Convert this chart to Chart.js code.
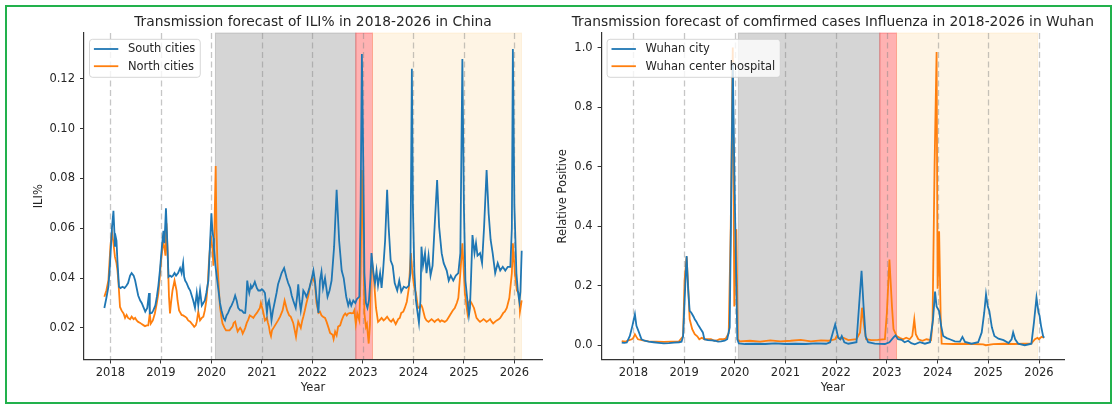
<!DOCTYPE html>
<html>
<head>
<meta charset="utf-8">
<script src="https://cdn.jsdelivr.net/npm/chart.js@4.4.1/dist/chart.umd.min.js"></script>
<style>
  html, body { margin: 0; padding: 0; background: #fff; }
  #wrap { position: relative; width: 1116px; height: 406px; overflow: hidden; }
  canvas { position: absolute; top: 0; }
  #frame { position: absolute; left: 5px; top: 5px; width: 1107px; height: 399px;
           box-sizing: border-box; border: 2px solid #22b14c; pointer-events: none; }
</style>
</head>
<body>
<div id="wrap">
  <canvas id="china" width="556" height="406" style="left:0"></canvas>
  <canvas id="wuhan" width="560" height="406" style="left:556px"></canvas>
  <div id="frame"></div>
</div>
<script>
// ---- tick labels ----
const yearTicks = [2018, 2019, 2020, 2021, 2022, 2023, 2024, 2025, 2026];
const iliTicks = [0.02, 0.04, 0.06, 0.08, 0.10, 0.12];
const posTicks = [0.0, 0.2, 0.4, 0.6, 0.8, 1.0];

// ---- period shading (start year, end year) ----
const lockdownPeriod = [2020.08, 2022.86];
const reopeningPeriod = [2022.86, 2023.19];
const forecastPeriodChina = [2023.19, 2026.14];
const forecastPeriodWuhan = [2023.19, 2025.97];
const lockdownPeriodWuhan = [2020.07, 2022.86];

// ---- ILI%, south cities ----
const southT = [
  2017.88,2017.92,2017.96,2017.99,2018.01,2018.03,2018.06,2018.08,2018.09,2018.11,2018.12,2018.14,2018.17,2018.2,2018.24,2018.28,
  2018.32,2018.35,2018.39,2018.42,2018.46,2018.49,2018.52,2018.55,2018.59,2018.62,2018.66,2018.69,2018.73,2018.765,2018.78,2018.82,
  2018.85,2018.89,2018.92,2018.95,2018.98,2019.02,2019.05,2019.07,2019.1,2019.13,2019.15,2019.18,2019.21,2019.24,2019.27,2019.3,
  2019.34,2019.38,2019.41,2019.44,2019.46,2019.48,2019.51,2019.55,2019.58,2019.61,2019.64,2019.675,2019.71,2019.74,2019.775,2019.81,
  2019.84,2019.87,2019.9,2019.94,2019.97,2020.0,2020.02,2020.04,2020.05,2020.08,2020.11,2020.14,2020.17,2020.2,2020.24,2020.27,
  2020.3,2020.33,2020.37,2020.4,2020.44,2020.47,2020.5,2020.53,2020.57,2020.6,2020.64,2020.67,2020.69,2020.71,2020.73,2020.75,
  2020.78,2020.8,2020.83,2020.86,2020.9,2020.93,2020.97,2021.0,2021.03,2021.06,2021.08,2021.1,2021.12,2021.14,2021.17,2021.19,
  2021.22,2021.26,2021.29,2021.32,2021.36,2021.39,2021.44,2021.49,2021.52,2021.56,2021.59,2021.62,2021.67,2021.7,2021.72,2021.745,
  2021.77,2021.8,2021.82,2021.85,2021.88,2021.91,2021.94,2021.99,2022.02,2022.05,2022.08,2022.12,2022.15,2022.18,2022.21,2022.25,
  2022.3,2022.34,2022.38,2022.43,2022.48,2022.53,2022.58,2022.62,2022.67,2022.71,2022.74,2022.77,2022.81,2022.85,2022.88,2022.93,
  2022.955,2022.98,2023.01,2023.03,2023.06,2023.09,2023.12,2023.15,2023.17,2023.21,2023.24,2023.27,2023.3,2023.34,2023.37,2023.4,
  2023.44,2023.48,2023.51,2023.55,2023.59,2023.63,2023.68,2023.72,2023.76,2023.81,2023.86,2023.91,2023.94,2023.97,2023.99,2024.02,
  2024.05,2024.09,2024.11,2024.14,2024.16,2024.19,2024.23,2024.26,2024.3,2024.34,2024.38,2024.42,2024.47,2024.51,2024.56,2024.6,
  2024.66,2024.7,2024.74,2024.79,2024.84,2024.89,2024.93,2024.97,2025.0,2025.03,2025.07,2025.1,2025.12,2025.14,2025.17,2025.21,
  2025.24,2025.27,2025.32,2025.36,2025.4,2025.45,2025.49,2025.53,2025.57,2025.62,2025.67,2025.72,2025.77,2025.82,2025.87,2025.92,
  2025.95,2025.97,2026.0,2026.04,2026.07,2026.1,2026.12,2026.145
];
const southV = [
  0.028,0.032,0.0365,0.045,0.0526,0.060,0.067,0.058,0.0526,0.056,0.055,0.0465,0.0365,0.036,0.0365,0.036,
  0.037,0.038,0.041,0.042,0.041,0.039,0.036,0.033,0.031,0.030,0.028,0.0265,0.028,0.034,0.0258,0.026,
  0.027,0.029,0.0325,0.037,0.043,0.0526,0.059,0.054,0.068,0.0526,0.0405,0.041,0.0405,0.041,0.042,0.041,
  0.042,0.044,0.042,0.046,0.0405,0.039,0.038,0.036,0.035,0.033,0.031,0.028,0.034,0.029,0.035,0.029,
  0.030,0.031,0.034,0.039,0.0526,0.066,0.059,0.056,0.052,0.045,0.040,0.035,0.030,0.027,0.024,0.023,
  0.025,0.026,0.028,0.029,0.031,0.033,0.031,0.028,0.027,0.027,0.026,0.026,0.031,0.039,0.036,0.034,
  0.037,0.036,0.037,0.0385,0.036,0.035,0.035,0.0355,0.035,0.034,0.030,0.026,0.030,0.031,0.027,0.023,
  0.027,0.031,0.034,0.0375,0.040,0.042,0.044,0.040,0.038,0.036,0.033,0.031,0.028,0.033,0.0375,0.031,
  0.027,0.031,0.035,0.034,0.0325,0.034,0.036,0.040,0.043,0.039,0.0325,0.026,0.039,0.0425,0.036,0.040,
  0.0325,0.035,0.039,0.0526,0.0754,0.055,0.043,0.040,0.0325,0.029,0.031,0.029,0.031,0.030,0.0315,0.0325,
  0.0687,0.130,0.082,0.042,0.030,0.028,0.031,0.040,0.050,0.042,0.038,0.043,0.037,0.042,0.036,0.043,
  0.055,0.0754,0.0605,0.047,0.045,0.038,0.035,0.039,0.0345,0.0365,0.036,0.037,0.042,0.124,0.069,0.042,
  0.031,0.025,0.022,0.031,0.0526,0.045,0.050,0.042,0.049,0.041,0.045,0.0605,0.0794,0.0605,0.050,0.046,
  0.043,0.039,0.041,0.039,0.041,0.042,0.050,0.128,0.069,0.039,0.031,0.025,0.028,0.039,0.0573,0.050,
  0.054,0.049,0.050,0.046,0.0605,0.0834,0.066,0.0553,0.050,0.042,0.046,0.043,0.0445,0.043,0.0445,0.0445,
  0.060,0.132,0.069,0.042,0.0345,0.0305,0.0345,0.051
];

// ---- ILI%, north cities ----
const northT = [
  2017.88,2017.92,2017.96,2018.0,2018.03,2018.06,2018.09,2018.12,2018.14,2018.16,2018.19,2018.22,2018.26,2018.29,2018.32,2018.35,
  2018.39,2018.42,2018.46,2018.49,2018.52,2018.55,2018.59,2018.62,2018.66,2018.685,2018.72,2018.75,2018.78,2018.8,2018.84,2018.88,
  2018.92,2018.95,2018.98,2019.0,2019.03,2019.05,2019.07,2019.09,2019.11,2019.14,2019.16,2019.18,2019.2,2019.23,2019.27,2019.31,
  2019.33,2019.36,2019.41,2019.44,2019.48,2019.51,2019.54,2019.58,2019.61,2019.64,2019.66,2019.69,2019.71,2019.74,2019.775,2019.81,
  2019.84,2019.87,2019.9,2019.93,2019.95,2019.99,2020.02,2020.04,2020.06,2020.085,2020.1,2020.12,2020.15,2020.17,2020.2,2020.22,
  2020.26,2020.29,2020.33,2020.36,2020.42,2020.44,2020.47,2020.5,2020.52,2020.55,2020.57,2020.6,2020.62,2020.65,2020.67,2020.7,
  2020.73,2020.76,2020.8,2020.83,2020.86,2020.9,2020.93,2020.96,2020.98,2021.02,2021.04,2021.06,2021.1,2021.12,2021.14,2021.16,
  2021.18,2021.2,2021.23,2021.26,2021.29,2021.32,2021.36,2021.41,2021.45,2021.5,2021.54,2021.57,2021.6,2021.62,2021.65,2021.675,
  2021.7,2021.72,2021.75,2021.77,2021.8,2021.82,2021.85,2021.88,2021.92,2021.95,2022.0,2022.05,2022.08,2022.12,2022.15,2022.18,
  2022.21,2022.25,2022.28,2022.32,2022.35,2022.4,2022.42,2022.45,2022.48,2022.51,2022.55,2022.58,2022.62,2022.65,2022.68,2022.71,
  2022.75,2022.78,2022.81,2022.83,2022.86,2022.89,2022.93,2022.955,2022.98,2023.01,2023.03,2023.06,2023.08,2023.1,2023.115,2023.14,
  2023.16,2023.185,2023.22,2023.26,2023.3,2023.33,2023.37,2023.41,2023.44,2023.48,2023.53,2023.56,2023.6,2023.65,2023.7,2023.73,
  2023.76,2023.8,2023.83,2023.87,2023.91,2023.95,2023.98,2024.02,2024.05,2024.09,2024.13,2024.16,2024.18,2024.23,2024.26,2024.3,
  2024.36,2024.42,2024.45,2024.49,2024.53,2024.56,2024.62,2024.66,2024.69,2024.72,2024.75,2024.78,2024.82,2024.86,2024.89,2024.93,
  2024.97,2025.0,2025.02,2025.05,2025.07,2025.09,2025.12,2025.15,2025.2,2025.25,2025.29,2025.32,2025.36,2025.39,2025.42,2025.45,
  2025.49,2025.52,2025.55,2025.58,2025.62,2025.65,2025.69,2025.72,2025.75,2025.78,2025.81,2025.85,2025.9,2025.95,2025.97,2026.01,
  2026.05,2026.09,2026.11,2026.145
];
const northV = [
  0.0325,0.035,0.039,0.0526,0.0586,0.054,0.0485,0.046,0.043,0.038,0.0284,0.027,0.0258,0.024,0.0252,0.024,
  0.0235,0.0245,0.0235,0.024,0.023,0.0224,0.022,0.0215,0.021,0.0207,0.021,0.021,0.0258,0.0217,0.023,0.0258,
  0.030,0.0338,0.041,0.046,0.052,0.054,0.052,0.049,0.062,0.046,0.0325,0.0258,0.030,0.035,0.039,0.035,
  0.031,0.027,0.0252,0.025,0.0245,0.024,0.023,0.0225,0.0217,0.021,0.0204,0.021,0.0224,0.0265,0.023,0.024,
  0.0245,0.027,0.031,0.038,0.046,0.057,0.052,0.045,0.060,0.085,0.060,0.046,0.035,0.0284,0.024,0.0218,
  0.020,0.019,0.019,0.019,0.0205,0.022,0.0225,0.020,0.0185,0.0195,0.020,0.019,0.0177,0.019,0.020,0.022,
  0.0233,0.025,0.0245,0.024,0.025,0.026,0.027,0.028,0.030,0.027,0.025,0.023,0.024,0.022,0.0205,0.018,
  0.0167,0.019,0.020,0.021,0.022,0.023,0.0245,0.027,0.031,0.027,0.025,0.0245,0.023,0.022,0.019,0.0164,
  0.020,0.0225,0.021,0.020,0.023,0.0245,0.027,0.0298,0.033,0.0365,0.0405,0.038,0.030,0.026,0.0265,0.025,
  0.0245,0.024,0.0225,0.020,0.018,0.0172,0.0155,0.0185,0.017,0.0205,0.021,0.023,0.025,0.0258,0.025,0.0258,
  0.026,0.0258,0.026,0.027,0.0215,0.0258,0.023,0.042,0.0834,0.055,0.0258,0.0204,0.0215,0.017,0.0137,0.0215,
  0.042,0.0459,0.039,0.028,0.0224,0.023,0.024,0.023,0.0235,0.0245,0.023,0.0225,0.0235,0.0215,0.0235,0.024,
  0.026,0.0265,0.028,0.0305,0.036,0.050,0.042,0.036,0.034,0.028,0.0285,0.029,0.028,0.024,0.023,0.0224,
  0.0235,0.0224,0.023,0.0235,0.0225,0.023,0.0224,0.023,0.024,0.025,0.026,0.027,0.028,0.030,0.032,0.042,
  0.054,0.042,0.034,0.029,0.026,0.030,0.031,0.030,0.028,0.024,0.023,0.0224,0.023,0.0235,0.023,0.0224,
  0.023,0.0235,0.0225,0.0218,0.0225,0.023,0.0235,0.024,0.025,0.026,0.0265,0.028,0.032,0.042,0.054,0.042,
  0.035,0.034,0.0265,0.031
];

// ---- relative positive, Wuhan city ----
const cityT = [
  2017.77,2017.82,2017.87,2017.93,2017.98,2018.03,2018.06,2018.11,2018.16,2018.22,2018.3,2018.4,2018.5,2018.6,2018.7,2018.8,
  2018.9,2018.95,2018.98,2019.02,2019.05,2019.08,2019.11,2019.14,2019.16,2019.19,2019.21,2019.24,2019.27,2019.3,2019.33,2019.37,
  2019.4,2019.47,2019.55,2019.6,2019.67,2019.73,2019.8,2019.85,2019.9,2019.93,2019.96,2019.99,2020.02,2020.05,2020.08,2020.2,
  2020.4,2020.6,2020.8,2021.0,2021.2,2021.4,2021.6,2021.8,2021.88,2021.93,2021.98,2022.04,2022.08,2022.11,2022.16,2022.24,
  2022.4,2022.45,2022.5,2022.54,2022.58,2022.63,2022.76,2022.96,2023.05,2023.13,2023.17,2023.22,2023.29,2023.35,2023.42,2023.48,
  2023.55,2023.65,2023.75,2023.85,2023.91,2023.95,2023.98,2024.03,2024.07,2024.11,2024.18,2024.24,2024.34,2024.44,2024.49,2024.54,
  2024.67,2024.8,2024.87,2024.92,2024.955,2024.99,2025.02,2025.07,2025.12,2025.2,2025.3,2025.4,2025.46,2025.49,2025.53,2025.59,
  2025.72,2025.85,2025.9,2025.95,2025.99,2026.01,2026.04,2026.08,2026.1
];
const cityV = [
  0.009,0.008,0.009,0.031,0.065,0.104,0.065,0.043,0.020,0.015,0.012,0.010,0.008,0.006,0.007,0.009,
  0.010,0.012,0.030,0.188,0.300,0.188,0.115,0.110,0.104,0.095,0.087,0.080,0.070,0.062,0.054,0.043,
  0.020,0.017,0.016,0.015,0.012,0.013,0.015,0.020,0.060,0.500,0.950,0.600,0.300,0.020,0.006,0.004,
  0.005,0.004,0.006,0.004,0.005,0.004,0.006,0.005,0.010,0.040,0.070,0.025,0.020,0.031,0.010,0.005,
  0.010,0.130,0.250,0.130,0.030,0.010,0.005,0.004,0.010,0.026,0.033,0.020,0.018,0.010,0.015,0.007,
  0.003,0.010,0.005,0.010,0.087,0.180,0.130,0.115,0.065,0.031,0.024,0.020,0.013,0.012,0.028,0.011,
  0.005,0.010,0.043,0.110,0.171,0.130,0.115,0.060,0.031,0.022,0.017,0.007,0.020,0.043,0.020,0.005,
  0.000,0.005,0.076,0.160,0.110,0.100,0.065,0.031,0.025
];

// ---- relative positive, Wuhan center hospital ----
const hospitalT = [
  2017.77,2017.85,2017.9,2017.97,2018.0,2018.03,2018.06,2018.09,2018.19,2018.3,2018.45,2018.6,2018.75,2018.9,2018.98,2019.01,
  2019.05,2019.08,2019.11,2019.16,2019.21,2019.26,2019.3,2019.35,2019.4,2019.53,2019.6,2019.66,2019.7,2019.76,2019.82,2019.88,
  2019.92,2019.96,2019.99,2020.03,2020.06,2020.1,2020.3,2020.5,2020.7,2020.9,2021.1,2021.3,2021.5,2021.7,2021.85,2021.98,
  2022.01,2022.08,2022.14,2022.24,2022.4,2022.47,2022.51,2022.55,2022.59,2022.69,2022.82,2022.96,2023.0,2023.05,2023.1,2023.13,
  2023.19,2023.25,2023.32,2023.38,2023.45,2023.5,2023.54,2023.57,2023.62,2023.7,2023.78,2023.87,2023.9,2023.94,2023.98,2024.0,
  2024.03,2024.06,2024.08,2024.3,2024.5,2024.7,2024.9,2024.95,2025.1,2025.3,2025.5,2025.7,2025.85,2025.92,2025.97,2026.0,
  2026.05,2026.1
];
const hospitalV = [
  0.014,0.012,0.016,0.020,0.025,0.037,0.028,0.020,0.016,0.013,0.012,0.011,0.012,0.013,0.030,0.220,
  0.297,0.200,0.087,0.054,0.037,0.030,0.020,0.025,0.020,0.020,0.015,0.017,0.020,0.020,0.022,0.040,
  0.400,1.000,0.130,0.390,0.020,0.013,0.015,0.012,0.016,0.013,0.015,0.018,0.013,0.016,0.015,0.020,
  0.030,0.020,0.025,0.017,0.020,0.043,0.126,0.065,0.020,0.017,0.018,0.020,0.110,0.288,0.130,0.054,
  0.031,0.025,0.020,0.025,0.020,0.031,0.087,0.037,0.020,0.015,0.020,0.017,0.076,0.600,0.985,0.190,
  0.383,0.100,0.005,0.004,0.005,0.004,0.003,0.000,0.004,0.005,0.004,0.005,0.006,0.020,0.025,0.020,
  0.028,0.025
];

const FONT = '"DejaVu Sans", "Liberation Sans", sans-serif';
const TEXT = '#262626';

// Shaded periods and dashed year markers, drawn beneath the data lines.
const backdrop = {
  id: 'backdrop',
  beforeDraw(chart, args, opts) {
    const { ctx, chartArea: a, scales: { x } } = chart;
    ctx.save();
    for (const s of opts.spans) {
      const x0 = x.getPixelForValue(s.range[0]);
      const x1 = x.getPixelForValue(s.range[1]);
      ctx.fillStyle = s.color;
      ctx.fillRect(x0, a.top, x1 - x0, a.bottom - a.top);
      ctx.strokeStyle = s.color;
      ctx.lineWidth = 1;
      ctx.strokeRect(x0, a.top, x1 - x0, a.bottom - a.top);
    }
    ctx.setLineDash([6, 3.5]);
    ctx.strokeStyle = 'rgba(128,128,128,0.45)';
    ctx.lineWidth = 1.3;
    for (const yr of yearTicks) {
      const px = Math.round(x.getPixelForValue(yr)) + 0.5;
      ctx.beginPath();
      ctx.moveTo(px, a.top);
      ctx.lineTo(px, a.bottom);
      ctx.stroke();
    }
    ctx.restore();
  }
};

// Chart heading, centred over the plotting area.
const heading = {
  id: 'heading',
  afterDraw(chart, args, opts) {
    const { ctx, chartArea: a } = chart;
    ctx.save();
    ctx.font = '13.8px ' + FONT;
    ctx.fillStyle = TEXT;
    ctx.textAlign = 'center';
    ctx.textBaseline = 'middle';
    ctx.fillText(opts.text, (a.left + a.right) / 2, opts.y);
    ctx.restore();
  }
};

// Framed legend in the upper-left corner of the plotting area.
const cornerLegend = {
  id: 'cornerLegend',
  afterDraw(chart) {
    const { ctx, chartArea: a } = chart;
    const items = chart.data.datasets;
    ctx.save();
    ctx.font = '11.5px ' + FONT;
    const tw = Math.max(...items.map(d => ctx.measureText(d.label).width));
    const x0 = a.left + 5.5, y0 = a.top + 6.3;
    const w = 38.4 + tw + 5, h = 38, r = 3;
    ctx.beginPath();
    ctx.moveTo(x0 + r, y0);
    ctx.arcTo(x0 + w, y0, x0 + w, y0 + h, r);
    ctx.arcTo(x0 + w, y0 + h, x0, y0 + h, r);
    ctx.arcTo(x0, y0 + h, x0, y0, r);
    ctx.arcTo(x0, y0, x0 + w, y0, r);
    ctx.closePath();
    ctx.fillStyle = 'rgba(255,255,255,0.8)';
    ctx.fill();
    ctx.strokeStyle = 'rgba(204,204,204,0.8)';
    ctx.lineWidth = 1;
    ctx.stroke();
    items.forEach((d, i) => {
      const cy = y0 + 9.7 + i * 17.2;
      ctx.strokeStyle = d.borderColor;
      ctx.lineWidth = 1.8;
      ctx.beginPath();
      ctx.moveTo(x0 + 4.4, cy);
      ctx.lineTo(x0 + 28.8, cy);
      ctx.stroke();
      ctx.fillStyle = TEXT;
      ctx.textBaseline = 'middle';
      ctx.textAlign = 'left';
      ctx.fillText(d.label, x0 + 38.4, cy + 0.5);
    });
    ctx.restore();
  }
};

function series(label, t, v, color) {
  return {
    label, borderColor: color, borderWidth: 1.8, pointRadius: 0, tension: 0, fill: false,
    data: t.map((tt, i) => ({ x: tt, y: v[i] }))
  };
}

function build(id, cfg) {
  const tickFont = { family: FONT, size: 11.5 };
  return new Chart(document.getElementById(id), {
    type: 'line',
    data: { datasets: cfg.datasets },
    options: {
      responsive: false, animation: false, events: [],
      layout: { padding: cfg.padding },
      plugins: {
        legend: { display: false }, tooltip: { enabled: false },
        backdrop: { spans: cfg.spans },
        heading: { text: cfg.title, y: 22 }
      },
      scales: {
        x: {
          type: 'linear', min: cfg.xMin, max: cfg.xMax,
          afterBuildTicks: s => { s.ticks = yearTicks.map(v => ({ value: v })); },
          afterFit: s => { s.height = cfg.xHeight; },
          grid: { display: true, drawOnChartArea: false, drawTicks: true, tickLength: 4, tickColor: '#333', tickWidth: 1 },
          border: { display: true, color: '#333', width: 1.2 },
          ticks: { font: tickFont, color: TEXT, padding: 3, maxRotation: 0, autoSkip: false, callback: v => String(v) },
          title: { display: true, text: 'Year', font: tickFont, color: TEXT, padding: { top: 0, bottom: 10.6 } }
        },
        y: {
          type: 'linear', min: cfg.yMin, max: cfg.yMax,
          afterBuildTicks: s => { s.ticks = cfg.yTicks.map(v => ({ value: v })); },
          afterFit: s => { s.width = cfg.yWidth; },
          grid: { display: true, drawOnChartArea: false, drawTicks: true, tickLength: 4, tickColor: '#333', tickWidth: 1 },
          border: { display: true, color: '#333', width: 1.2 },
          ticks: { font: tickFont, color: TEXT, padding: 5, autoSkip: false, callback: v => v.toFixed(cfg.digits) },
          title: { display: true, text: cfg.yLabel, font: tickFont, color: TEXT, padding: { top: cfg.yTitlePad, bottom: 0 } }
        }
      }
    },
    plugins: [backdrop, heading, cornerLegend]
  });
}

build('china', {
  title: 'Transmission forecast of ILI% in 2018-2026 in China',
  datasets: [
    series('South cities', southT, southV, '#1f77b4'),
    series('North cities', northT, northV, '#ff7f0e')
  ],
  spans: [
    { range: lockdownPeriod, color: 'rgba(128,128,128,0.33)' },
    { range: reopeningPeriod, color: 'rgba(255,0,0,0.3)' },
    { range: forecastPeriodChina, color: 'rgba(250,200,120,0.2)' }
  ],
  padding: { left: 0, top: 33, right: 14, bottom: 0 },
  xMin: 2017.477, xMax: 2026.547, xHeight: 46.5,
  yMin: 0.0073, yMax: 0.1384, yWidth: 84, yTicks: iliTicks, digits: 2,
  yLabel: 'ILI%', yTitlePad: 31.7
});

build('wuhan', {
  title: 'Transmission forecast of comfirmed cases Influenza in 2018-2026 in Wuhan',
  datasets: [
    series('Wuhan city', cityT, cityV, '#1f77b4'),
    series('Wuhan center hospital', hospitalT, hospitalV, '#ff7f0e')
  ],
  spans: [
    { range: lockdownPeriodWuhan, color: 'rgba(128,128,128,0.33)' },
    { range: reopeningPeriod, color: 'rgba(255,0,0,0.3)' },
    { range: forecastPeriodWuhan, color: 'rgba(250,200,120,0.2)' }
  ],
  padding: { left: 0, top: 33, right: 52, bottom: 0 },
  xMin: 2017.373, xMax: 2026.493, xHeight: 46.5,
  yMin: -0.048, yMax: 1.049, yWidth: 45.6, yTicks: posTicks, digits: 1,
  yLabel: 'Relative Positive', yTitlePad: 0.5
});
</script>
</body>
</html>
